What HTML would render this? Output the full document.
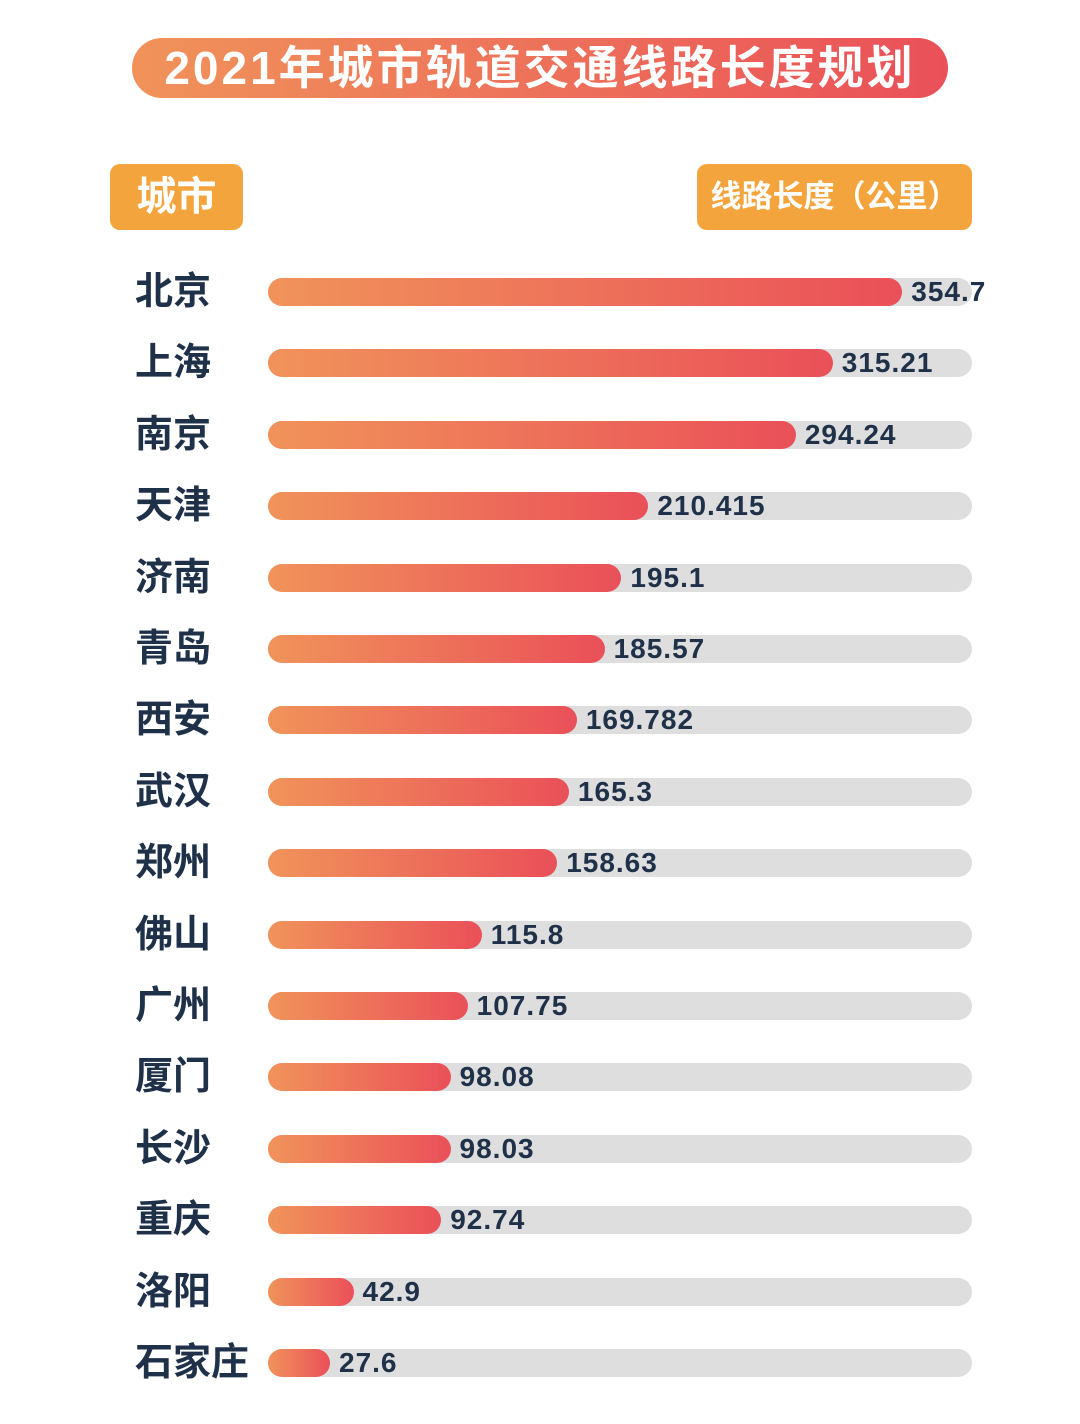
<!DOCTYPE html>
<html><head><meta charset="utf-8">
<style>
body{margin:0;width:1080px;height:1424px;background:#fff;font-family:"Liberation Sans","Noto Sans CJK SC",sans-serif;position:relative;overflow:hidden}
.title{position:absolute;left:132px;top:38px;width:816px;height:60px;border-radius:30px;background:linear-gradient(90deg,#f0935a,#ea5059);color:#fff;font-weight:bold;font-size:46px;line-height:60px;text-align:center;letter-spacing:3px}
.hbox{position:absolute;top:164px;height:66px;border-radius:10px;background:#f4a43c;color:#fff;font-weight:bold;text-align:center;line-height:66px}
.city{position:absolute;left:135px;font-size:38px;font-weight:bold;color:#1f3049;line-height:40px}
.track{position:absolute;left:268px;width:704px;height:28px;border-radius:14px;background:#dedede}
.bar{position:absolute;left:268px;height:28px;border-radius:14px;background:linear-gradient(90deg,#f0935a,#ea5059)}
.val{position:absolute;font-size:28px;font-weight:bold;color:#1f3049;line-height:30px;letter-spacing:1px}
</style></head><body>
<div class="title">2021年城市轨道交通线路长度规划</div>
<div class="hbox" style="left:110px;width:133px;font-size:40px">城市</div>
<div class="hbox" style="left:697px;width:275px;font-size:31px">线路长度（公里）</div>
<div id="chart"></div>
<script>
const cities=["北京","上海","南京","天津","济南","青岛","西安","武汉","郑州","佛山","广州","厦门","长沙","重庆","洛阳","石家庄"];
const values=[354.7,315.21,294.24,210.415,195.1,185.57,169.782,165.3,158.63,115.8,107.75,98.08,98.03,92.74,42.9,27.6];
const labels=["354.7","315.21","294.24","210.415","195.1","185.57","169.782","165.3","158.63","115.8","107.75","98.08","98.03","92.74","42.9","27.6"];
const root=document.getElementById('chart');
function y(i){return 292+i*71.4;}
function w(v){return Math.max(62,10+v*1.76);}
cities.forEach((c,i)=>{
 const cy=y(i);
 const l=document.createElement('div');l.className='city';l.style.top=(cy-20)+'px';l.textContent=c;
 
 
 root.appendChild(l);
 const t=document.createElement('div');t.className='track';t.style.top=(cy-14)+'px';
 
 
 root.appendChild(t);
 const b=document.createElement('div');b.className='bar';b.style.top=(cy-14)+'px';b.style.width=w(values[i])+'px';
 
 
 root.appendChild(b);
 const v=document.createElement('div');v.className='val';v.style.top=(cy-15)+'px';v.style.left=(268+w(values[i])+9)+'px';v.textContent=labels[i];
 
 
 root.appendChild(v);
});
</script>
</body></html>
